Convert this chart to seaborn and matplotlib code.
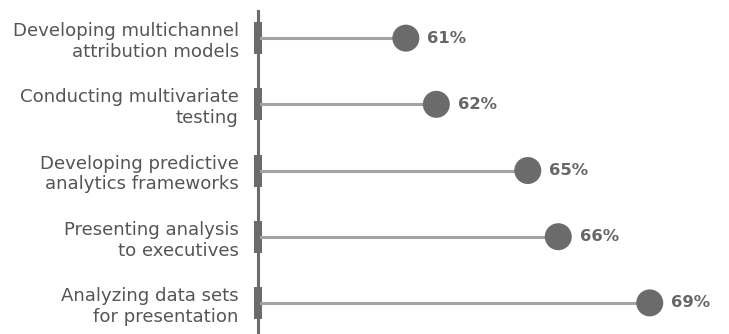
import matplotlib
matplotlib.use("Agg")
import matplotlib.pyplot as plt
import seaborn as sns
import pandas as pd

categories = [
    "Developing multichannel\nattribution models",
    "Conducting multivariate\ntesting",
    "Developing predictive\nanalytics frameworks",
    "Presenting analysis\nto executives",
    "Analyzing data sets\nfor presentation",
]
values = [61, 62, 65, 66, 69]
value_labels = ["61%", "62%", "65%", "66%", "69%"]

sns.set_theme(style="white")
plt.rcParams["font.family"] = ["DejaVu Sans"]

df = pd.DataFrame({"category": categories, "value": values, "pos": range(len(values))})

fig = plt.figure(figsize=(7.29, 3.34), dpi=100)
ax = fig.add_axes([258 / 729, 0, 1 - 258 / 729, 1 - 11 / 334])

XMIN, XMAX = 56.15, 71.6
ax.set_xlim(XMIN, XMAX)
ax.set_ylim(4.47, -0.41)

ax.hlines(df["pos"], XMIN, df["value"], color="#a3a3a3", linewidth=2.2, zorder=1)
sns.scatterplot(data=df, x="value", y="pos", ax=ax, s=27 * 27 * 0.5184, color="#6b6b6b",
                edgecolor="none", zorder=3, legend=False)

for p, v, lab in zip(df["pos"], df["value"], value_labels):
    ax.annotate(lab, (v, p), xytext=(15.5, 0), textcoords="offset points",
                ha="left", va="center", fontsize=11.8, fontweight="bold", color="#666666")

ax.set_yticks(df["pos"])
ax.set_yticklabels(categories, fontsize=13.1, color="#555555", linespacing=1.2)
ax.set_xticks([])
ax.set_xlabel("")
ax.set_ylabel("")

for s in ["top", "right", "bottom"]:
    ax.spines[s].set_visible(False)
ax.spines["left"].set_color("#6b6b6b")
ax.spines["left"].set_linewidth(2.2)
ax.tick_params(axis="y", direction="inout", length=5.8, width=23, color="#6b6b6b", pad=11, left=True)

fig.savefig("out.png", dpi=100)
